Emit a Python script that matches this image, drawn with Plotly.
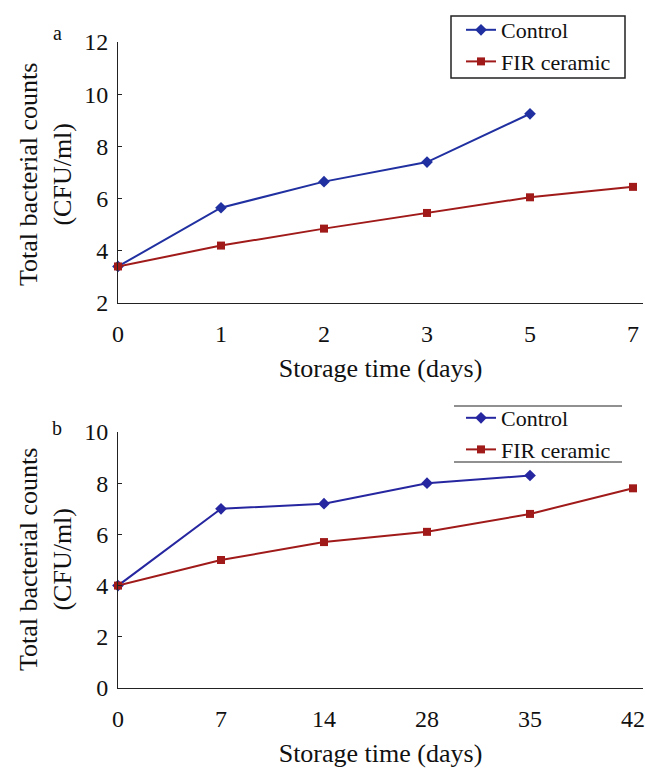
import plotly.graph_objects as go

# Panel a data
days_a = ["0", "1", "2", "3", "5", "7"]
control_a = [3.4, 5.65, 6.65, 7.4, 9.25]
fir_a = [3.4, 4.2, 4.85, 5.45, 6.05, 6.45]

# Panel b data
days_b = ["0", "7", "14", "28", "35", "42"]
control_b = [4.0, 7.0, 7.2, 8.0, 8.3]
fir_b = [4.0, 5.0, 5.7, 6.1, 6.8, 7.8]

series_names = ["Control", "FIR ceramic"]
y_title = "Total bacterial counts<br>(CFU/ml)"
x_title = "Storage time (days)"
panel_labels = ["a", "b"]

BLUE = "#2030a0"
BLUE_B = "#2626a0"
RED = "#a01a1a"
FONT = "Liberation Serif"

W, H = 645, 769
L, R = 118, 2
PW = W - L - R


def px_x(p):
    return (p - L) / PW


def px_y(p):
    return 1 - p / H


fig = go.Figure()

fig.add_trace(go.Scatter(x=days_a[:len(control_a)], y=control_a, name=series_names[0],
                         mode="lines+markers", line=dict(color=BLUE, width=2),
                         marker=dict(symbol="diamond", size=9, color=BLUE),
                         cliponaxis=False, xaxis="x", yaxis="y", legend="legend"))
fig.add_trace(go.Scatter(x=days_a, y=fir_a, name=series_names[1],
                         mode="lines+markers", line=dict(color=RED, width=2),
                         marker=dict(symbol="square", size=8, color=RED),
                         cliponaxis=False, xaxis="x", yaxis="y", legend="legend"))
fig.add_trace(go.Scatter(x=days_b[:len(control_b)], y=control_b, name=series_names[0],
                         mode="lines+markers", line=dict(color=BLUE_B, width=2),
                         marker=dict(symbol="diamond", size=9, color=BLUE_B),
                         cliponaxis=False, xaxis="x2", yaxis="y2", legend="legend2"))
fig.add_trace(go.Scatter(x=days_b, y=fir_b, name=series_names[1],
                         mode="lines+markers", line=dict(color=RED, width=2),
                         marker=dict(symbol="square", size=8, color=RED),
                         cliponaxis=False, xaxis="x2", yaxis="y2", legend="legend2"))

axis_common = dict(showgrid=False, zeroline=False, showline=True, linecolor="#222",
                   linewidth=1, tickfont=dict(family=FONT, size=24, color="#111"),
                   automargin=False)
xcommon = dict(axis_common, type="category", range=[0, 5.097], ticks="",
               ticklabelstandoff=9,
               title=dict(text=x_title, font=dict(family=FONT, size=26, color="#111"),
                          standoff=13))
ycommon = dict(axis_common, dtick=2, ticks="inside", ticklen=4, tickcolor="#222",
               ticklabelstandoff=4)

legend_common = dict(xref="paper", yref="paper", xanchor="left", yanchor="top",
                     font=dict(family=FONT, size=22, color="#111"),
                     tracegroupgap=0, itemwidth=30, bgcolor="rgba(0,0,0,0)",
                     borderwidth=0)

fig.update_layout(
    width=W, height=H,
    margin=dict(l=L, r=R, t=0, b=0),
    paper_bgcolor="white", plot_bgcolor="white",
    font=dict(family=FONT, size=22, color="#111"),
    xaxis=dict(xcommon, anchor="y"),
    yaxis=dict(ycommon, range=[2, 12], domain=[px_y(303), px_y(42)], anchor="x"),
    xaxis2=dict(xcommon, anchor="y2"),
    yaxis2=dict(ycommon, range=[0, 10], domain=[px_y(688), px_y(432)], anchor="x2"),
    legend=dict(legend_common, x=px_x(461), y=px_y(9)),
    legend2=dict(legend_common, x=px_x(461), y=px_y(397)),
    showlegend=True,
)

# Y-axis titles (two lines, rotated) and panel letters
for ycenter, label, lab_y in ((175, panel_labels[0], 33), (560, panel_labels[1], 428)):
    fig.add_annotation(text=y_title, x=px_x(45), y=px_y(ycenter), xref="paper", yref="paper",
                       xanchor="center", yanchor="middle",
                       showarrow=False, textangle=-90,
                       font=dict(family=FONT, size=26, color="#111"))
    fig.add_annotation(text=label, x=px_x(57), y=px_y(lab_y), xref="paper", yref="paper",
                       xanchor="center", yanchor="middle",
                       showarrow=False, font=dict(family=FONT, size=20, color="#111"))

# box around legend a
fig.add_shape(type="rect", xref="paper", yref="paper", layer="below",
              x0=px_x(451), x1=px_x(625), y0=px_y(78), y1=px_y(16),
              line=dict(color="#222", width=1.5), fillcolor="white")

# top/bottom rules for legend b
for ypx in (406, 462):
    fig.add_shape(type="line", xref="paper", yref="paper",
                  x0=px_x(454), x1=px_x(622), y0=px_y(ypx), y1=px_y(ypx),
                  line=dict(color="#222", width=1.2))

fig.write_html("out.html", config={"displayModeBar": False},
               post_script="document.body.style.margin='0';")
